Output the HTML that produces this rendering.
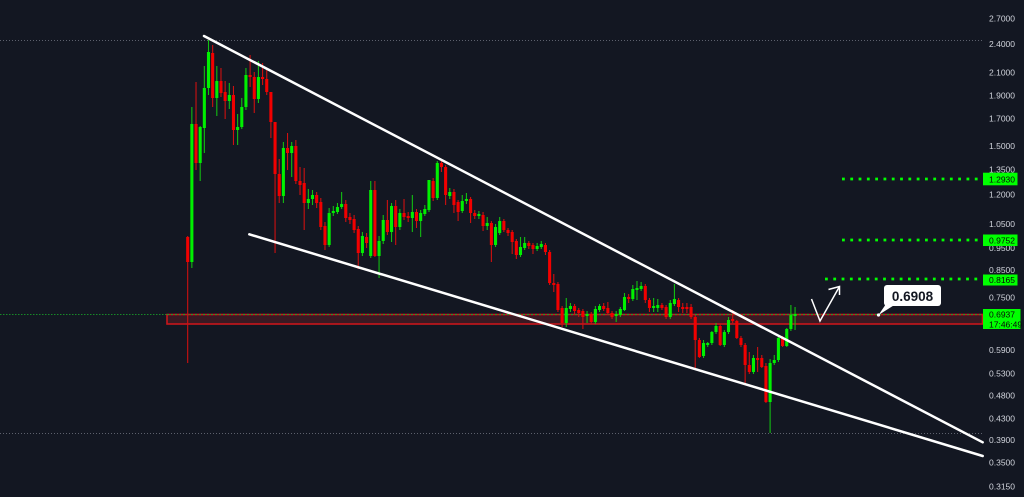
<!DOCTYPE html>
<html>
<head>
<meta charset="utf-8">
<style>
html,body{margin:0;padding:0;background:#131722;}
svg{display:block;}
text{font-family:"Liberation Sans",sans-serif;}
</style>
</head>
<body>
<svg width="1024" height="497" viewBox="0 0 1024 497" xmlns="http://www.w3.org/2000/svg">
<rect x="0" y="0" width="1024" height="497" fill="#131722"/>

<!-- gray dotted reference lines -->
<line x1="0" y1="40.5" x2="982" y2="40.5" stroke="#5d616d" stroke-width="1" stroke-dasharray="1 2"/>
<line x1="0" y1="433.5" x2="982" y2="433.5" stroke="#5d616d" stroke-width="1" stroke-dasharray="1 2"/>

<!-- price line left part (faint green dotted) -->
<line x1="0" y1="314.5" x2="167" y2="314.5" stroke="#178a28" stroke-width="1" stroke-dasharray="1.5 1.5"/>

<!-- red zone -->
<rect x="167" y="314.5" width="815.5" height="9.5" fill="#3a1a23" stroke="#c8161c" stroke-width="1.6"/>
<line x1="167" y1="314.5" x2="982" y2="314.5" stroke="#1f9e2a" stroke-width="1" stroke-dasharray="2 2"/>

<!-- candles -->
<g transform="translate(187.7,0) scale(4.16,1)">
<path fill="none" stroke="#12c012" stroke-width="0.26" d="M1 107V268M3 126V181M4 66V153M5 40V95M7 66V116M10 83V109M12 114V145M13 98V129M14 68V110M17 61V103M23 142V203M25 142V177M29 189V209M30 190V205M34 208V247M35 206V216M36 203V214M37 192V209M42 232V256M44 181V258M46 236V278M47 215V244M49 203V242M51 209V230M54 195V232M56 210V237M57 205V216M58 180V212M60 161V200M63 188V199M66 195V213M67 193V204M70 211V219M72 217V230M74 224V247M75 217V235M80 237V257M81 237V250M84 243V251M85 241V249M91 298V327M92 303V312M96 311V323M98 306V324M99 304V312M103 311V322M104 307V317M105 293V311M107 285V301M108 281V300M109 282V291M112 298V312M113 299V312M116 300V319M117 284V306M124 340V358M125 342V347M126 331V345M127 323V334M129 330V347M130 317V334M136 355V374M140 359V433M141 355V365M142 337V362M144 328V347M145 305V331M146 307V330"/>
<path fill="none" stroke="#d01010" stroke-width="0.26" d="M0 236V363M2 82V170M6 45V107M8 68V97M9 81V119M11 86V145M15 55V87M16 72V113M18 63V85M19 70V95M20 92V138M21 122V253M22 159V203M24 133V170M26 140V184M27 167V195M28 168V230M31 192V208M32 198V230M33 222V250M38 200V222M39 213V224M40 215V233M41 226V269M43 233V248M45 181V257M48 200V235M50 200V245M52 199V220M53 212V222M55 209V228M59 178V201M61 161V172M62 165V205M64 189V213M65 200V221M68 197V223M69 210V219M71 212V231M73 221V262M76 219V232M77 228V236M78 230V254M79 239V259M82 241V249M83 243V254M86 243V255M87 250V285M88 274V292M89 282V312M90 306V327M93 304V315M94 308V317M95 309V329M97 312V324M100 303V311M101 302V315M102 311V319M106 294V303M110 284V303M111 298V312M114 303V310M115 305V319M118 298V312M119 303V313M120 303V313M121 304V319M122 315V370M123 338V358M128 324V346M131 310V323M132 320V339M133 336V347M134 343V383M135 352V374M137 347V372M138 355V368M139 363V403M143 336V347"/>
<path fill="none" stroke="#00f000" stroke-width="0.74" d="M1 124V262M3 127V163M4 88V128M5 52V88M7 81V98M10 95V101M12 127V130M13 107V127M14 75V107M17 77V99M23 148V196M25 146V153M29 199V203M30 195V199M34 213V245M35 211V213M36 207V212M37 204V207M42 236V253M44 190V256M46 241V256M47 220V241M49 206V232M51 213V227M54 212V218M56 213V221M57 209V214M58 180V210M60 163V198M63 192V196M66 201V211M67 199V201M70 214V216M72 223V226M74 227V245M75 221V233M80 247V255M81 243V248M84 246V249M85 244V247M91 308V323M92 306V309M96 314V316M98 309V322M99 306V310M103 314V316M104 309V315M105 297V310M107 289V299M108 288V290M109 286V289M112 306V308M113 305V308M116 303V317M117 299V304M124 343V356M125 343V345M126 332V343M127 326V332M129 332V345M130 320V332M136 358V372M140 363V402M141 360V363M142 338V360M144 329V346M145 315V329M146 314V316"/>
<path fill="none" stroke="#f20000" stroke-width="0.74" d="M0 237V262M2 124V163M6 53V98M8 81V93M9 92V101M11 95V130M15 75V77M16 77V99M18 77V79M19 79V92M20 92V122M21 122V174M22 174V196M24 148V153M26 146V181M27 181V185M28 183V203M31 195V203M32 202V227M33 226V245M38 204V218M39 217V220M40 219V230M41 229V253M43 237V243M45 190V256M48 220V232M50 206V227M52 213V217M53 216V218M55 212V221M59 181V198M61 163V167M62 167V195M64 192V205M65 202V212M68 199V213M69 213V216M71 215V226M73 223V245M76 221V230M77 230V233M78 232V242M79 241V255M82 243V246M83 245V249M86 245V252M87 252V283M88 283V285M89 284V310M90 308V323M93 306V311M94 310V313M95 311V317M97 314V322M100 306V309M101 308V313M102 313V317M106 297V299M110 286V300M111 300V308M114 305V308M115 307V317M118 300V307M119 307V309M120 307V309M121 307V317M122 317V340M123 340V357M128 326V345M131 319V321M132 321V338M133 338V345M134 345V365M135 365V372M137 358V360M138 358V367M139 366V402M143 338V346"/>
</g>

<!-- trend lines -->
<line x1="204" y1="36" x2="982.7" y2="442.3" stroke="#ffffff" stroke-width="2.5" stroke-linecap="round"/>
<line x1="249.3" y1="234.3" x2="982.7" y2="456" stroke="#ffffff" stroke-width="2.5" stroke-linecap="round"/>

<!-- green dotted target levels -->
<line x1="842" y1="179" x2="982" y2="179" stroke="#00ff00" stroke-width="2.8" stroke-dasharray="2.8 5.5"/>
<line x1="842" y1="240" x2="982" y2="240" stroke="#00ff00" stroke-width="2.8" stroke-dasharray="2.8 5.5"/>
<line x1="825" y1="279" x2="982" y2="279" stroke="#00ff00" stroke-width="2.8" stroke-dasharray="2.8 5.5"/>

<!-- V arrow -->
<polyline points="811.5,299 820,321 839.5,286.5" fill="none" stroke="#ffffff" stroke-width="1.5" stroke-linejoin="miter"/>
<polyline points="828.5,289.5 839.5,286.5 839.5,295" fill="none" stroke="#ffffff" stroke-width="1.5"/>

<!-- callout -->
<polygon points="886,304 896,304 878.5,315" fill="#ffffff"/>
<rect x="884" y="285" width="57" height="21" rx="3" ry="3" fill="#ffffff"/>
<circle cx="878.5" cy="315" r="1.6" fill="#ffffff"/>
<text x="912.5" y="301" text-anchor="middle" font-size="13.5" font-weight="bold" fill="#131722">0.6908</text>

<!-- axis labels -->
<g font-size="8.5" fill="#d1d4dc">
<text x="989" y="21.3">2.7000</text>
<text x="989" y="47">2.4000</text>
<text x="989" y="75.7">2.1000</text>
<text x="989" y="98.7">1.9000</text>
<text x="989" y="121.7">1.7000</text>
<text x="989" y="149">1.5000</text>
<text x="989" y="172.3">1.3500</text>
<text x="989" y="197.3">1.2000</text>
<text x="989" y="227">1.0500</text>
<text x="989" y="251">0.9500</text>
<text x="989" y="273">0.8500</text>
<text x="989" y="300.7">0.7500</text>
<text x="989" y="353">0.5900</text>
<text x="989" y="376.3">0.5300</text>
<text x="989" y="398.7">0.4800</text>
<text x="989" y="421.3">0.4300</text>
<text x="989" y="443">0.3900</text>
<text x="989" y="465.7">0.3500</text>
<text x="989" y="489.7">0.3150</text>
</g>

<!-- green axis boxes -->
<rect x="983" y="172.7" width="34.5" height="12.6" fill="#00ff00"/>
<text x="989" y="182.3" font-size="8.5" fill="#0a0a0a">1.2930</text>
<rect x="983" y="234.5" width="34.5" height="11.5" fill="#00ff00"/>
<text x="989" y="243.5" font-size="8.5" fill="#0a0a0a">0.9752</text>
<rect x="983" y="274.5" width="34.5" height="11" fill="#00ff00"/>
<text x="989" y="283" font-size="8.5" fill="#0a0a0a">0.8165</text>
<rect x="983" y="309" width="37.5" height="20" fill="#00ff00"/>
<text x="989" y="317.5" font-size="8.5" fill="#0a0a0a">0.6937</text>
<text x="989" y="327.3" font-size="8.5" fill="#0a0a0a">17:46:49</text>
</svg>
</body>
</html>
